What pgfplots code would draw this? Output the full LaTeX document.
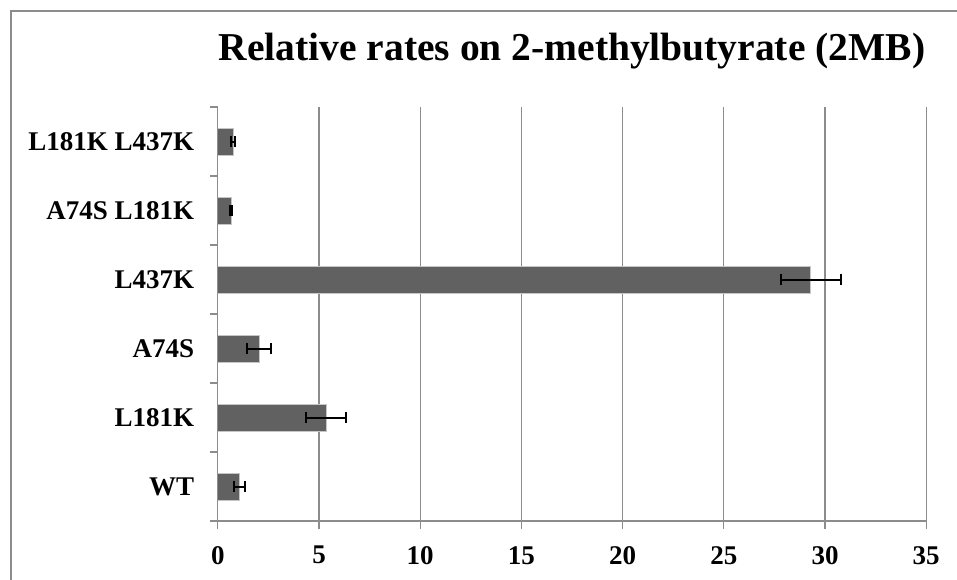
\documentclass[border=0pt]{standalone}
\usepackage{fontspec}
\setmainfont{Liberation Serif}
\usepackage{pgfplots}
\pgfplotsset{compat=1.18}
\definecolor{gridgray}{HTML}{8C8C8C}
\definecolor{bargray}{HTML}{616161}
\begin{document}
\begin{tikzpicture}
\useasboundingbox (0pt,0pt) rectangle (957pt,-580pt);
\draw[gridgray, line width=1.3pt] (11pt,-580pt) -- (11pt,-11pt) -- (957pt,-11pt);
\begin{axis}[
  at={(217.8pt,-521pt)}, anchor=south west,
  scale only axis, width=708.4pt, height=414pt,
  xmin=0, xmax=35, ymin=-0.5, ymax=5.5,
  axis lines*=left, axis line style={gridgray, line width=1.3pt, -},
  xtick={0,5,...,35}, xticklabels={0,5,10,15,20,25,30,35},
  ytick={0,...,5}, yticklabels={WT,L181K,A74S,L437K,A74S L181K,L181K L437K},
  minor ytick={-0.5,0.5,...,5.5},
  tick align=outside, major tick length=8pt, minor tick length=8pt,
  major y tick style={draw=none},
  tick style={gridgray, line width=1.3pt},
  xmajorgrids, major grid style={gridgray, line width=1.3pt},
  tick label style={font=\fontsize{27}{27}\selectfont\bfseries},
  yticklabel style={anchor=east, inner sep=0pt, xshift=-15.5pt},
  xticklabel style={anchor=north, inner sep=0pt, yshift=-17pt},
  title={Relative rates on 2-methylbutyrate (2MB)},
  title style={font=\fontsize{39.5}{39.5}\selectfont\bfseries, at={(0.5,1)}, anchor=base, yshift=40.3pt},
]
\addplot[xbar, bar width=27pt, fill=bargray, draw=gray!45, line width=0.8pt,
  error bars/.cd, x dir=both, x explicit, error mark=|,
  error bar style={black, line width=2pt},
  error mark options={black, line width=2pt, mark size=5.5pt}]
  table[x=x, y=y, x error=xe] {
y x xe
0 1.05 0.27
1 5.35 1.00
2 2.05 0.60
3 29.30 1.47
4 0.65 0.05
5 0.75 0.10
};
\end{axis}
\end{tikzpicture}
\end{document}
